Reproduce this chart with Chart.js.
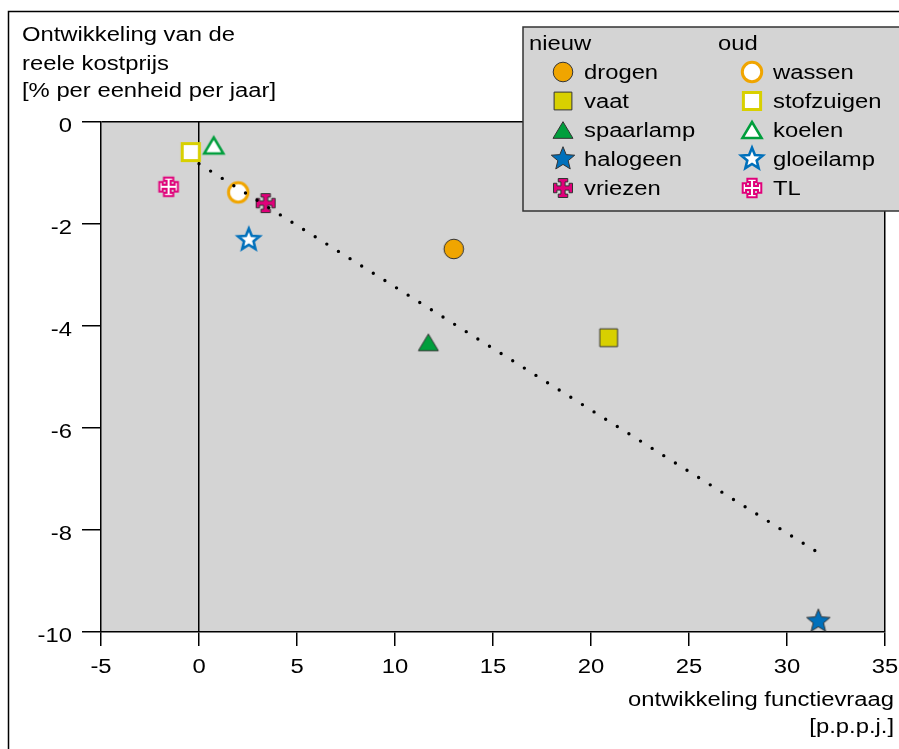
<!DOCTYPE html>
<html>
<head>
<meta charset="utf-8">
<script src="https://cdn.jsdelivr.net/npm/chart.js@4.4.1/dist/chart.umd.min.js"></script>
<style>
  html, body { margin: 0; padding: 0; background: #fff; }
  canvas { display: block; }
</style>
</head>
<body>
<canvas id="chart" width="899" height="749"></canvas>
<script>
// values
const nieuwNames = ['drogen', 'vaat', 'spaarlamp', 'halogeen', 'vriezen'];
const nieuwX = [13.0, 20.9, 11.7, 31.6, 3.4];
const nieuwY = [-2.49, -4.23, -4.32, -9.79, -1.59];

const oudNames = ['wassen', 'stofzuigen', 'koelen', 'gloeilamp', 'TL'];
const oudX = [2.0, -0.42, 0.75, 2.54, -1.55];
const oudY = [-1.38, -0.59, -0.46, -2.31, -1.27];

const trendX = [0, 31.45];
const trendY = [-0.82, -8.41];

const xTickLabels = ['-5', '0', '5', '10', '15', '20', '25', '30', '35'];
const yTickLabels = ['0', '-2', '-4', '-6', '-8', '-10'];

const yTitle = ['Ontwikkeling van de', 'reele kostprijs', '[% per eenheid per jaar]'];
const xTitle = ['ontwikkeling functievraag', '[p.p.p.j.]'];

const colors = ['#f0a500', '#d8d000', '#009e3c', '#0070bb', '#e0007a'];

const FONT = '20px "Liberation Sans", Arial, sans-serif';
const STRETCH = 1.19;

// marker images
function shapePath(g, shape, s) {
  g.beginPath();
  if (shape === 'circle') {
    g.arc(0, 0, s, 0, Math.PI * 2);
  } else if (shape === 'square') {
    g.rect(-s, -s, 2 * s, 2 * s);
  } else if (shape === 'triangle') {
    g.moveTo(0, -s * 0.85);
    g.lineTo(s * 1.02, s * 0.85);
    g.lineTo(-s * 1.02, s * 0.85);
    g.closePath();
  } else if (shape === 'star') {
    for (let i = 0; i < 10; i++) {
      const r = i % 2 === 0 ? s : s * 0.44;
      const a = -Math.PI / 2 + i * Math.PI / 5;
      if (i === 0) g.moveTo(r * Math.cos(a), r * Math.sin(a));
      else g.lineTo(r * Math.cos(a), r * Math.sin(a));
    }
    g.closePath();
  } else if (shape === 'cross') {
    const a = s * 0.22, c = s * 0.5, d = s * 0.36;
    const pts = [
      [-c, -s], [c, -s], [c, -s + d], [a, -s + d], [a, -a], [s - d, -a], [s - d, -c], [s, -c],
      [s, c], [s - d, c], [s - d, a], [a, a], [a, s - d], [c, s - d], [c, s], [-c, s],
      [-c, s - d], [-a, s - d], [-a, a], [-s + d, a], [-s + d, c], [-s, c], [-s, -c],
      [-s + d, -c], [-s + d, -a], [-a, -a], [-a, -s + d], [-c, -s + d]
    ];
    pts.forEach((p, i) => i ? g.lineTo(p[0], p[1]) : g.moveTo(p[0], p[1]));
    g.closePath();
  }
}

function makeMarker(shape, size, fill, stroke, lw) {
  const c = document.createElement('canvas');
  c.width = 40;
  c.height = 40;
  const g = c.getContext('2d');
  g.translate(20, 20);
  shapePath(g, shape, size);
  g.fillStyle = fill;
  g.fill();
  g.lineWidth = lw;
  g.lineJoin = 'miter';
  g.strokeStyle = stroke;
  g.stroke();
  return c;
}

const shapes = ['circle', 'square', 'triangle', 'star', 'cross'];
const fullSizes = [9.8, 8.9, 9.8, 12.3, 9.5];
const openSizes = [9.7, 8.6, 9.4, 11.3, 9.3];
const openWidths = [3, 3, 2.5, 2.6, 2];

const nieuwMarkers = shapes.map((s, i) => makeMarker(s, fullSizes[i], colors[i], '#333', 1));
const oudMarkers = shapes.map((s, i) => makeMarker(s, openSizes[i], '#fff', colors[i], openWidths[i]));

function stretchText(ctx, txt, x, y, align) {
  ctx.save();
  ctx.translate(x, y);
  ctx.scale(STRETCH, 1);
  ctx.textAlign = align;
  ctx.textBaseline = 'alphabetic';
  ctx.fillText(txt, 0, 0);
  ctx.restore();
}

const datasets = [];
nieuwNames.forEach((n, i) => {
  datasets.push({
    label: n,
    data: [{x: nieuwX[i], y: nieuwY[i]}],
    pointStyle: nieuwMarkers[i],
    pointRadius: 10
  });
});
oudNames.forEach((n, i) => {
  datasets.push({
    label: n,
    data: [{x: oudX[i], y: oudY[i]}],
    pointStyle: oudMarkers[i],
    pointRadius: 10
  });
});
datasets.unshift({
  type: 'line',
  label: 'trend',
  data: trendX.map((x, i) => ({x: x, y: trendY[i]})),
  borderColor: '#000',
  borderWidth: 3.4,
  borderDash: [0, 13.72],
  borderCapStyle: 'round',
  pointRadius: 0,
  fill: false
});

const decor = {
  id: 'decor',
  beforeDraw(chart) {
    const ctx = chart.ctx;
    const a = chart.chartArea;
    ctx.save();
    ctx.fillStyle = '#fff';
    ctx.fillRect(0, 0, chart.width, chart.height);
    ctx.strokeStyle = '#000';
    ctx.lineWidth = 1.5;
    ctx.strokeRect(8.5, 11.5, 1000, 1000);
    ctx.fillStyle = '#d4d4d4';
    ctx.fillRect(a.left, a.top, a.right - a.left, a.bottom - a.top);
    ctx.restore();
  },
  afterDraw(chart) {
    const ctx = chart.ctx;
    const xs = chart.scales.x, ys = chart.scales.y;
    ctx.save();
    ctx.font = FONT;
    ctx.fillStyle = '#000';

    // tick labels
    xs.ticks.forEach((t, i) => {
      stretchText(ctx, xTickLabels[i], xs.getPixelForValue(t.value), 673, 'center');
    });
    ys.ticks.forEach((t, i) => {
      stretchText(ctx, yTickLabels[ys.ticks.length - 1 - i], 72, ys.getPixelForValue(t.value) + 10.4, 'right');
    });

    // axis titles
    const yBase = [41, 70, 97];
    yTitle.forEach((s, i) => stretchText(ctx, s, 22, yBase[i], 'left'));
    const xBase = [706, 733];
    xTitle.forEach((s, i) => stretchText(ctx, s, 894, xBase[i], 'right'));

    // legend box
    ctx.fillStyle = '#d4d4d4';
    ctx.fillRect(523, 27, 500, 184);
    ctx.strokeStyle = '#333';
    ctx.lineWidth = 1.5;
    ctx.strokeRect(523, 27, 500, 184);
    ctx.fillStyle = '#000';
    stretchText(ctx, 'nieuw', 529, 49.5, 'left');
    stretchText(ctx, 'oud', 718, 49.5, 'left');
    const rows = [72, 101, 130, 159, 188];
    nieuwNames.forEach((n, i) => {
      ctx.drawImage(nieuwMarkers[i], 563 - 20, rows[i] - 20);
      stretchText(ctx, n, 584, rows[i] + 6.5, 'left');
    });
    oudNames.forEach((n, i) => {
      ctx.drawImage(oudMarkers[i], 752 - 20, rows[i] - 20);
      stretchText(ctx, n, 773, rows[i] + 6.5, 'left');
    });
    ctx.restore();
  }
};

new Chart(document.getElementById('chart').getContext('2d'), {
  type: 'scatter',
  data: { datasets: datasets },
  options: {
    responsive: false,
    animation: false,
    events: [],
    layout: { padding: { top: 122, right: 14, left: 0, bottom: 0 } },
    plugins: {
      legend: { display: false },
      tooltip: { enabled: false }
    },
    scales: {
      x: {
        type: 'linear',
        min: -5,
        max: 35,
        ticks: { stepSize: 5, display: false },
        grid: {
          color: c => (c.tick && (c.tick.value === 0 || c.tick.value === 35)) ? '#000' : 'rgba(0,0,0,0)',
          tickColor: '#000',
          tickLength: 14,
          lineWidth: 1.5
        },
        border: { color: '#000', width: 1.5 },
        afterFit: s => { s.height = 117; }
      },
      y: {
        type: 'linear',
        min: -10,
        max: 0,
        ticks: { stepSize: 2, display: false },
        grid: {
          color: c => (c.tick && c.tick.value === 0) ? '#000' : 'rgba(0,0,0,0)',
          tickColor: '#000',
          tickLength: 19,
          lineWidth: 1.5
        },
        border: { color: '#000', width: 1.5 },
        afterFit: s => { s.width = 101; }
      }
    }
  },
  plugins: [decor]
});
</script>
</body>
</html>
